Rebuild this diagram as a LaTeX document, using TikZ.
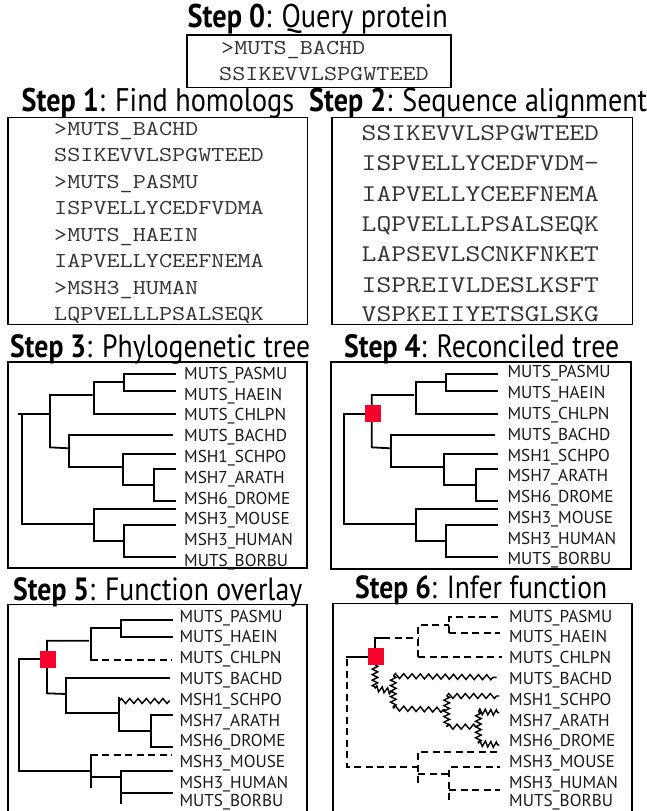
\documentclass[tikz,border=0pt]{standalone}
\usepackage{fontspec}
\usepackage{graphicx}
\setmainfont{PT Sans}
\usetikzlibrary{decorations.pathmorphing}
\definecolor{dupred}{HTML}{F5032D}
\newcommand{\ttl}[6]{\node[anchor=base west,inner sep=0pt] (#1) at (#2,#3) {\resizebox{#4pt}{!}{\scalebox{1}[1.16]{\fontsize{24pt}{24pt}\selectfont\textbf{Step #5}: #6}}};}
\newcommand{\seqline}[5]{\node[seqtext,font=\ttfamily\fontsize{#5pt}{#5pt}\selectfont] (#1) at (#2,#3) {\scalebox{1.2}[1]{#4}};}
\tikzset{
  frame/.style={draw=black,line width=1.7pt},
  seqtext/.style={anchor=base west,inner sep=0pt,text=black!80},
  leaf/.style={anchor=base west,inner sep=0pt,yshift=-6pt,font=\fontsize{17.2pt}{17.2pt}\selectfont,text=black!90},
  branch/.style={line width=1.8pt,line cap=rect},
  dashbranch/.style={line width=1.7pt,dash pattern=on 7pt off 4.5pt},
  zigbranch/.style={line width=1.4pt,decorate,decoration={zigzag,amplitude=2.5pt,segment length=8.3pt}},
  zigshort/.style={zigbranch,decoration={zigzag,amplitude=2.8pt,segment length=5.5pt}},
  dupnode/.style={fill=dupred,draw=none,minimum width=16pt,minimum height=17pt,inner sep=0pt},
  zoomed/.style={x=0.33333pt,y=-0.33333pt}
}
\begin{document}
\begin{tikzpicture}[x=1pt,y=-1pt]
\useasboundingbox (0,0) rectangle (647,811);
% titles
\ttl{t0}{187.5}{27.5}{260}{0}{Query protein}
\ttl{t1}{21.5}{111}{272.5}{1}{Find homologs}
\ttl{t2}{309}{111}{338}{2}{Sequence alignment}
\ttl{t3}{10}{357}{300}{3}{Phylogenetic tree}
\ttl{t4}{344}{357}{275}{4}{Reconciled tree}
\ttl{t5}{13}{600}{289}{5}{Function overlay}
\ttl{t6}{355}{598}{252}{6}{Infer function}
% frames
\draw[frame] (187,35) rectangle (451,87.5);
\draw[frame] (8,117.5) rectangle (307.5,324.5);
\draw[frame] (332,117.5) rectangle (632.5,324.5);
\draw[frame] (8,362) rectangle (307,568);
\draw[frame] (331,362) rectangle (631,569);
\draw[frame] (8,811) -- (8,604.5) -- (307,604.5) -- (307,811);
\draw[frame] (333,811) -- (333,603.5) -- (632,603.5) -- (632,811);
% step 0
\seqline{s0a}{221}{54}{>MUTS\_BACHD}{21.2}
\seqline{s0b}{219}{80}{SSIKEVVLSPGWTEED}{21.2}
% step 1
\seqline{s1a}{54}{135.7}{>MUTS\_BACHD}{21.2}
\seqline{s1b}{54}{161.7}{SSIKEVVLSPGWTEED}{21.2}
\seqline{s1c}{54}{188.3}{>MUTS\_PASMU}{21.2}
\seqline{s1d}{54}{214.3}{ISPVELLYCEDFVDMA}{21.2}
\seqline{s1e}{54}{241}{>MUTS\_HAEIN}{21.2}
\seqline{s1f}{54}{267}{IAPVELLYCEEFNEMA}{21.2}
\seqline{s1g}{54}{294}{>MSH3\_HUMAN}{21.2}
\seqline{s1h}{54}{320}{LQPVELLLPSALSEQK}{21.2}
% step 2
\seqline{s2a}{361.5}{140}{SSIKEVVLSPGWTEED}{24}
\seqline{s2b}{361.5}{170}{ISPVELLYCEDFVDM-}{24}
\seqline{s2c}{361.5}{201}{IAPVELLYCEEFNEMA}{24}
\seqline{s2d}{361.5}{231.7}{LQPVELLLPSALSEQK}{24}
\seqline{s2e}{361.5}{261.7}{LAPSEVLSCNKFNKET}{24}
\seqline{s2f}{361.5}{292.7}{ISPREIVLDESLKSFT}{24}
\seqline{s2g}{361.5}{321.7}{VSPKEIIYETSGLSKG}{24}
% step 3 tree
\begin{scope}[shift={(0,340)},zoomed]
\foreach \n/\t/\yy in {a/MUTS\_PASMU/100,b/MUTS\_HAEIN/163,c/MUTS\_CHLPN/223,d/MUTS\_BACHD/287,e/MSH1\_SCHPO/349,f/MSH7\_ARATH/411,g/MSH6\_DROME/475,h/MSH3\_MOUSE/535,i/MSH3\_HUMAN/598,j/MUTS\_BORBU/660}
  \node[leaf] (p\n) at (552,\yy) {\t};
\draw[branch] (57,223) -- (150,223);
\draw[branch] (67,223) |- (283,553);
\draw[branch] (525,507) -| (283,603) -- (373,603);
\draw[branch] (525,555) -| (373,650) -- (525,650);
\draw[branch] (275,165) -| (150,322) -- (208,325);
\draw[branch] (517,285) -| (208,382) -- (368,382);
\draw[branch] (525,341) -| (368,436) -- (463,436);
\draw[branch] (525,387) -| (463,483) -- (525,483);
\draw[branch] (373,127) -| (283,223) -- (525,223);
\draw[branch] (525,103) -| (373,152) -- (525,152);
\end{scope}
% step 4 tree
\begin{scope}[shift={(320,340)},zoomed]
\foreach \n/\t/\yy in {a/MUTS\_PASMU/94,b/MUTS\_HAEIN/157,c/MUTS\_CHLPN/220,d/MUTS\_BACHD/283,e/MSH1\_SCHPO/345,f/MSH7\_ARATH/406,g/MSH6\_DROME/468,h/MSH3\_MOUSE/531,i/MSH3\_HUMAN/594,j/MUTS\_BORBU/655}
  \node[leaf] (q\n) at (562,\yy) {\t};
\draw[branch] (158,222) -- (72,222) |- (287,553);
\draw[branch] (530,507) -| (287,603) -- (378,603);
\draw[branch] (530,555) -| (378,650) -- (530,650);
\draw[branch] (280,165) -| (155,322) -- (213,325);
\draw[branch] (522,285) -| (213,382) -- (373,382);
\draw[branch] (530,341) -| (373,436) -- (468,436);
\draw[branch] (530,387) -| (468,483) -- (530,483);
\draw[branch] (378,127) -| (287,223) -- (530,223);
\draw[branch] (530,103) -| (378,152) -- (530,152);
\node[dupnode] (qdup) at (158,221) {};
\end{scope}
% step 5 tree
\begin{scope}[shift={(0,570)},zoomed]
\foreach \n/\t/\yy in {a/MUTS\_PASMU/139,b/MUTS\_HAEIN/200,c/MUTS\_CHLPN/262,d/MUTS\_BACHD/325,e/MSH1\_SCHPO/388,f/MSH7\_ARATH/450,g/MSH6\_DROME/512,h/MSH3\_MOUSE/574,i/MSH3\_HUMAN/636,j/MUTS\_BORBU/690}
  \node[leaf] (r\n) at (538,\yy) {\t};
\draw[branch] (144,268) -- (57,268) |- (272,602);
\draw[branch] (272,652) -- (272,555);
\draw[dashbranch] (272,555) -- (517,555);
\draw[branch] (272,622) -- (363,622);
\draw[branch] (517,602) -| (363,700);
\draw[branch] (363,670) -- (517,670);
\draw[branch] (265,212) -| (141,370) -- (198,372);
\draw[branch] (363,173) -| (272,270);
\draw[dashbranch] (272,270) -- (517,270);
\draw[branch] (517,150) -| (363,200) -- (517,200);
\draw[branch] (508,325) -| (198,430) -- (358,430);
\draw[branch] (358,385) -- (358,484) -- (453,484);
\draw[zigbranch] (358,393) -- (510,393);
\draw[branch] (517,434) -| (453,530) -- (517,530);
\node[dupnode] (rdup) at (144,269) {};
\end{scope}
% step 6 tree
\begin{scope}[shift={(320,570)},zoomed]
\foreach \n/\t/\yy in {a/MUTS\_PASMU/139,b/MUTS\_HAEIN/200,c/MUTS\_CHLPN/262,d/MUTS\_BACHD/325,e/MSH1\_SCHPO/388,f/MSH7\_ARATH/450,g/MSH6\_DROME/512,h/MSH3\_MOUSE/574,i/MSH3\_HUMAN/636,j/MUTS\_BORBU/690}
  \node[leaf] (s\n) at (567,\yy) {\t};
\draw[branch] (167,262) -- (82,262);
\draw[dashbranch] (82,268) -- (82,592) -- (295,592);
\draw[dashbranch] (295,640) -- (295,545) -- (542,545);
\draw[dashbranch] (295,612) -- (388,612);
\draw[dashbranch] (388,690) -- (388,592) -- (540,592);
\draw[dashbranch] (388,660) -- (540,660);
\draw[branch] (165,235) -- (165,203) -- (190,203);
\draw[dashbranch] (190,203) -- (295,203);
\draw[dashbranch] (295,262) -- (295,165) -- (388,165);
\draw[dashbranch] (388,190) -- (388,142) -- (540,142);
\draw[dashbranch] (388,190) -- (540,190);
\draw[dashbranch] (295,262) -- (545,262);
\draw[zigshort] (165,285) -- (165,355);
\draw[zigshort] (165,355) -- (220,365);
\draw[zigshort] (220,318) -- (220,415);
\draw[zigbranch] (220,318) -- (530,322);
\draw[zigbranch] (220,415) -- (380,420);
\draw[zigshort] (380,378) -- (380,470);
\draw[zigbranch] (380,378) -- (538,378);
\draw[zigbranch] (380,470) -- (475,470);
\draw[zigshort] (475,425) -- (475,520);
\draw[zigshort] (475,425) -- (538,428);
\draw[zigshort] (475,520) -- (538,525);
\node[dupnode] (sdup) at (167,260) {};
\end{scope}
\end{tikzpicture}
\end{document}
